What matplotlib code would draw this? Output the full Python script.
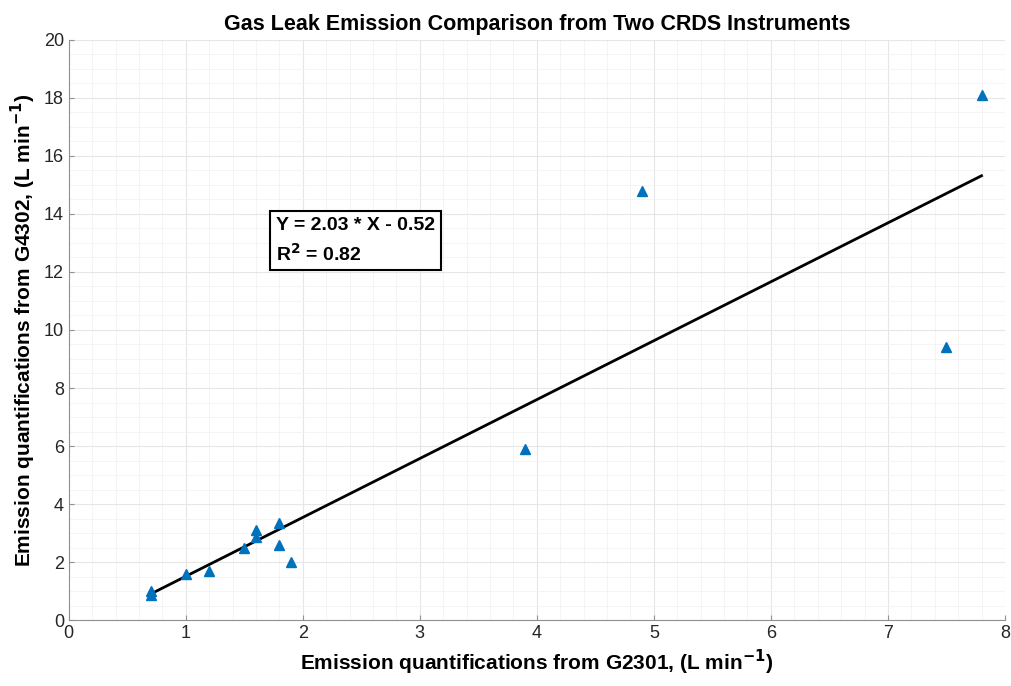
import matplotlib
matplotlib.use("Agg")
import matplotlib.pyplot as plt
import numpy as np
from matplotlib.ticker import MultipleLocator

plt.rcParams['font.family'] = ['Liberation Sans', 'DejaVu Sans']

g2301 = [0.7, 0.7, 1.0, 1.2, 1.5, 1.6, 1.6, 1.8, 1.8, 1.9, 3.9, 4.9, 7.5, 7.8]
g4302 = [1.0, 0.85, 1.6, 1.7, 2.5, 3.1, 2.85, 3.35, 2.6, 2.0, 5.9, 14.8, 9.4, 18.1]
slope = 2.03
intercept = -0.52
r2 = 0.82

fig = plt.figure(figsize=(10.11, 6.86), dpi=100)
ax = fig.add_axes([0.068, 0.096, 0.926, 0.846])

xfit = np.array([min(g2301), max(g2301)])
ax.plot(xfit, slope * xfit + intercept, color='black', lw=2)
ax.plot(g2301, g4302, linestyle='none', marker='^', color='#0072BD', markersize=7)

ax.set_xlim(0, 8)
ax.set_ylim(0, 20)
ax.xaxis.set_major_locator(MultipleLocator(1))
ax.yaxis.set_major_locator(MultipleLocator(2))
ax.xaxis.set_minor_locator(MultipleLocator(0.2))
ax.yaxis.set_minor_locator(MultipleLocator(0.5))
ax.grid(True, which='major', color='#e6e6e6', lw=0.8)
ax.grid(True, which='minor', color='#f3f3f3', lw=0.6)
ax.set_axisbelow(True)
ax.tick_params(which='both', direction='in', labelsize=13, labelcolor='#262626', color='#909090')
ax.tick_params(which='minor', length=0)
ax.spines['top'].set_visible(False)
ax.spines['right'].set_visible(False)
for s in ('left', 'bottom'):
    ax.spines[s].set_color('#909090')
    ax.spines[s].set_linewidth(0.8)

ax.set_title('Gas Leak Emission Comparison from Two CRDS Instruments',
             fontsize=15.5, fontweight='bold', pad=7)
ax.set_xlabel('Emission quantifications from G2301, (L min$^{\\mathbf{-1}}$)',
              fontsize=15, fontweight='bold')
ax.set_ylabel('Emission quantifications from G4302, (L min$^{\\mathbf{-1}}$)',
              fontsize=15, fontweight='bold')

ax.text(1.77, 13.9, 'Y = %.2f * X - %.2f\nR$^{\\mathbf{2}}$ = %.2f' % (slope, -intercept, r2),
        fontsize=14, fontweight='bold', va='top', ha='left', linespacing=1.5,
        bbox=dict(boxstyle='square,pad=0.3', facecolor='white', edgecolor='black', lw=1.5))

fig.savefig('out.png', dpi=100)
